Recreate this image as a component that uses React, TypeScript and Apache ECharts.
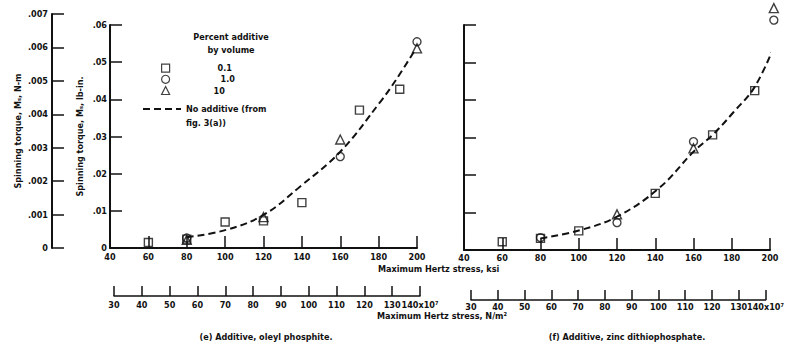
import React, { useEffect, useRef } from 'react';
import * as echarts from 'echarts';

// ---- data ----
const ksiTicks = [40, 60, 80, 100, 120, 140, 160, 180, 200];
const pascalTicks = [30, 40, 50, 60, 70, 80, 90, 100, 110, 120, 130, 140];
const legendNames = ['0.1', '1.0', '10'];
const curveName = 'No additive (from fig. 3(a))';

// (e) oleyl phosphite  [ksi, lb-in]
const squareE = [[60, 0.0015], [80, 0.0024], [100, 0.007], [120, 0.0073], [140, 0.0122], [170, 0.0371], [191, 0.0427]];
const circleE = [[80, 0.0027], [160, 0.0246], [200, 0.0555]];
const triangleE = [[80, 0.0022], [120, 0.0083], [160, 0.0292], [200, 0.0537]];
const curveE = [[80, 0.0029], [100, 0.0048], [120, 0.0089], [139, 0.0165], [160, 0.0259], [181, 0.0394], [189, 0.0452], [199, 0.0533]];

// (f) zinc dithiophosphate  [ksi, lb-in]
const squareF = [[60, 0.0022], [80, 0.0031], [100, 0.0051], [140, 0.0151], [170, 0.0307], [192, 0.0425]];
const circleF = [[80, 0.0033], [120, 0.0073], [160, 0.0289], [202, 0.0613]];
const triangleF = [[120, 0.0095], [160, 0.0271], [202, 0.0645]];
const curveF = [[80, 0.0031], [100, 0.0052], [120, 0.0089], [142, 0.0165], [160, 0.0262], [170, 0.0307], [181, 0.0368], [192, 0.0435], [203, 0.0553]];

const FONT = "'Liberation Sans Narrow', 'DejaVu Sans Condensed', sans-serif";
const INK = '#111';

export default function App() {
  const ref = useRef<HTMLDivElement>(null);
  useEffect(() => {
    if (!ref.current) return;
    const chart = echarts.init(ref.current, undefined, { renderer: 'svg' });

    const txt = { color: INK, fontFamily: FONT, fontSize: 9, fontWeight: 'bold' as const };
    const line = { show: true, lineStyle: { color: INK, width: 2 } };
    const tick = (len: number) => ({ show: true, inside: true, length: len, lineStyle: { color: INK, width: 1.5 } });

    const ksiAxis = (gi: number, margin: number) => ({
      gridIndex: gi, type: 'value', min: ksiTicks[0], max: ksiTicks[ksiTicks.length - 1], interval: 20,
      axisLine: line, axisTick: tick(12), splitLine: { show: false },
      axisLabel: { ...txt, margin },
    });
    const paAxis = (gi: number, margin: number) => ({
      gridIndex: gi, type: 'value', min: pascalTicks[0], max: pascalTicks[pascalTicks.length - 1], interval: 10,
      axisLine: { show: true, lineStyle: { color: INK, width: 1.5 } }, axisTick: tick(10), splitLine: { show: false },
      axisLabel: { ...txt, margin, formatter: (v: number) => (v === 140 ? '140x10⁷' : String(v)) },
    });
    const dec = (digits: number) => (v: number) => (v === 0 ? '0' : v.toFixed(digits).replace(/^0/, ''));

    const sym = { color: 'rgba(255,255,255,0)', borderColor: INK, borderWidth: 1.4 };
    const scatter = (name: string, symbol: string, size: number, data: number[][], gi: number) => ({
      name, type: 'scatter', xAxisIndex: gi, yAxisIndex: gi, symbol, symbolSize: size, data,
      itemStyle: sym, clip: false, z: 5,
    });
    const curve = (data: number[][], gi: number) => ({
      name: curveName, type: 'line', xAxisIndex: gi, yAxisIndex: gi, data, smooth: 0.4,
      symbol: 'none', showSymbol: false, clip: false,
      lineStyle: { color: INK, width: 2, type: [7, 4] }, itemStyle: { color: INK }, z: 4,
    });

    const gapStyle = (w: number) => ({ width: w, lineHeight: 9 });

    chart.setOption({
      animation: false,
      backgroundColor: '#fff',
      textStyle: { fontFamily: FONT },
      grid: [
        { left: 52, top: 14, width: 30, height: 234 },
        { left: 110, top: 25, width: 307, height: 223 },
        { left: 464, top: 25, width: 306, height: 225 },
        { left: 114, top: 286, width: 306, height: 10 },
        { left: 471, top: 290, width: 299, height: 10 },
      ],
      xAxis: [
        { gridIndex: 0, type: 'value', min: 0, max: 1, show: false },
        ksiAxis(1, 4),
        ksiAxis(2, 3),
        paAxis(3, 4),
        paAxis(4, 2),
      ],
      yAxis: [
        {
          gridIndex: 0, type: 'value', min: 0, max: 0.007, interval: 0.001,
          axisLine: line, axisTick: tick(12), splitLine: { show: false },
          axisLabel: { ...txt, margin: 4, formatter: dec(3) },
          name: 'Spinning torque, Mₛ, N-m', nameLocation: 'middle', nameGap: 30, nameRotate: 90,
          nameTextStyle: { ...txt },
        },
        {
          gridIndex: 1, type: 'value', min: 0, max: 0.06, interval: 0.01,
          axisLine: line, axisTick: tick(12), splitLine: { show: false },
          axisLabel: { ...txt, margin: 3, formatter: dec(2) },
          name: 'Spinning torque, Mₛ, lb-in.', nameLocation: 'middle', nameGap: 26, nameRotate: 90,
          nameTextStyle: { ...txt },
        },
        {
          gridIndex: 2, type: 'value', min: 0, max: 0.06, interval: 0.01,
          axisLine: line, axisTick: tick(12), splitLine: { show: false },
          axisLabel: { show: false },
        },
        { gridIndex: 3, type: 'value', show: false, min: 0, max: 1 },
        { gridIndex: 4, type: 'value', show: false, min: 0, max: 1 },
      ],
      legend: [
        {
          data: legendNames, orient: 'vertical', left: 161, top: 63.5, padding: 0,
          itemWidth: 8, itemHeight: 8, itemGap: 2, selectedMode: false,
          itemStyle: { borderWidth: 1.2 },
          textStyle: { ...txt, lineHeight: 9, rich: { g0: gapStyle(43), g1: gapStyle(46), g2: gapStyle(39) } },
          formatter: (n: string) => `{g${legendNames.indexOf(n)}|}${n}`,
        },
        {
          data: [curveName], left: 142, top: 88, padding: 0, itemWidth: 38, itemHeight: 10, selectedMode: false,
          itemStyle: { opacity: 0, borderWidth: 0 },
          lineStyle: { color: INK, width: 2, type: [7, 4] },
          textStyle: { ...txt, lineHeight: 14 },
          formatter: () => ' \nNo additive (from\nfig. 3(a))',
        },
      ],
      series: [
        curve(curveE, 1),
        scatter('0.1', 'rect', 8, squareE, 1),
        scatter('1.0', 'circle', 8, circleE, 1),
        scatter('10', 'triangle', 9, triangleE, 1),
        curve(curveF, 2),
        scatter('0.1', 'rect', 8, squareF, 2),
        scatter('1.0', 'circle', 8, circleF, 2),
        scatter('10', 'triangle', 9, triangleF, 2),
      ],
      graphic: [
        { type: 'text', x: 231, y: 37, style: { text: 'Percent additive', fill: INK, fontFamily: FONT, fontSize: 9, fontWeight: 'bold', align: 'center', verticalAlign: 'middle' } },
        { type: 'text', x: 231, y: 50, style: { text: 'by volume', fill: INK, fontFamily: FONT, fontSize: 9, fontWeight: 'bold', align: 'center', verticalAlign: 'middle' } },
        { type: 'text', x: 378, y: 269, style: { text: 'Maximum Hertz stress, ksi', fill: INK, fontFamily: FONT, fontSize: 9, fontWeight: 'bold', align: 'left', verticalAlign: 'middle' } },
        { type: 'text', x: 377, y: 316, style: { text: 'Maximum Hertz stress, N/m²', fill: INK, fontFamily: FONT, fontSize: 9, fontWeight: 'bold', align: 'left', verticalAlign: 'middle' } },
        { type: 'text', x: 266, y: 337, style: { text: '(e) Additive, oleyl phosphite.', fill: INK, fontFamily: FONT, fontSize: 9, fontWeight: 'bold', align: 'center', verticalAlign: 'middle' } },
        { type: 'text', x: 627, y: 337, style: { text: '(f) Additive, zinc dithiophosphate.', fill: INK, fontFamily: FONT, fontSize: 9, fontWeight: 'bold', align: 'center', verticalAlign: 'middle' } },
      ],
    });
    return () => chart.dispose();
  }, []);
  return <div ref={ref} style={{ position: 'absolute', left: 0, top: 0, width: 787, height: 348 }} />;
}
